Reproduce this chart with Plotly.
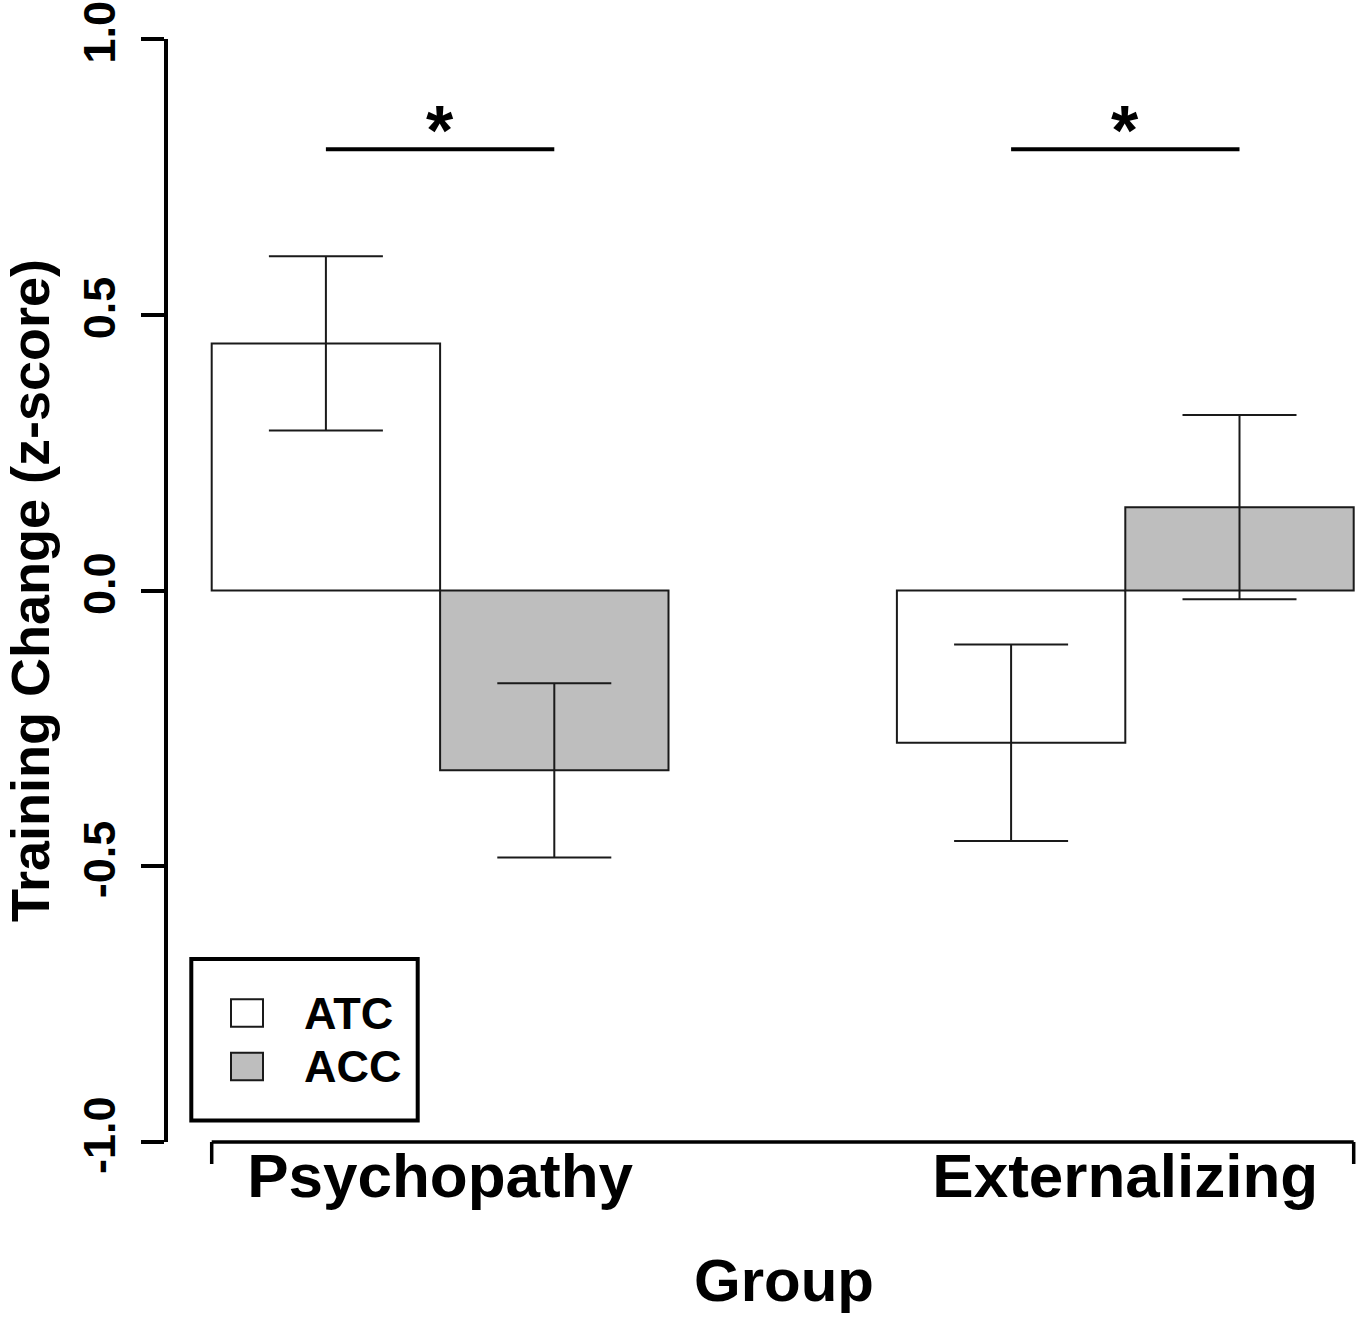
import plotly.graph_objects as go

# ---------------- data ----------------
groups = ["Psychopathy", "Externalizing"]
series_names = ["ATC", "ACC"]
series_colors = ["#ffffff", "#bebebe"]
atc_mean = [0.448, -0.276]
atc_se = [0.158, 0.178]
acc_mean = [-0.326, 0.151]
acc_se = [0.158, 0.167]
y_tick_vals = [-1.0, -0.5, 0.0, 0.5, 1.0]
y_tick_text = ["-1.0", "-0.5", "0.0", "0.5", "1.0"]
sig_level = 0.8
sig_label = "*"
x_title = "Group"
y_title = "Training Change (z-score)"

# ---------------- layout constants ----------------
W, H = 1361, 1317
ML, MR, MT, MB = 168, 0, 39, 175
PW, PH = W - ML - MR, H - MT - MB
PX_PER_UNIT = 228.4
BAR_LEFT_PX = 211.7
X0 = -(BAR_LEFT_PX - ML) / PX_PER_UNIT
XRANGE = [X0, X0 + PW / PX_PER_UNIT]
FONT = "Liberation Sans, Arial, Helvetica, sans-serif"
INK = "#000000"
EDGE = "#1a1a1a"


def px_x(px):
    return (px - ML) / PW


def px_y(py):
    return (H - MB - py) / PH


# bar positions (R barplot beside=TRUE, one bar width gap between groups)
atc_x = [3 * i + 0.5 for i in range(len(groups))]
acc_x = [3 * i + 1.5 for i in range(len(groups))]
centers = [3 * i + 1.0 for i in range(len(groups))]
bar_left = min(atc_x) - 0.5
bar_right = max(acc_x) + 0.5

fig = go.Figure()
for name, xs, ys, se, col in [
    (series_names[0], atc_x, atc_mean, atc_se, series_colors[0]),
    (series_names[1], acc_x, acc_mean, acc_se, series_colors[1]),
]:
    fig.add_trace(go.Bar(
        name=name, x=xs, y=ys, width=1.0,
        marker=dict(color=col, line=dict(color=EDGE, width=2)),
        error_y=dict(type="data", array=se, visible=True,
                     color=EDGE, thickness=2, width=57),
        showlegend=False,
    ))

shapes = []
# x-axis bracket
shapes.append(dict(type="line", xref="x", yref="paper", x0=bar_left, x1=bar_right,
                   y0=0, y1=0, line=dict(color=INK, width=3.5)))
for xv in (bar_left, bar_right):
    shapes.append(dict(type="line", xref="x", yref="paper", x0=xv, x1=xv,
                       y0=0, y1=-22 / PH, line=dict(color=INK, width=3.5)))
# significance lines
for i in range(len(groups)):
    shapes.append(dict(type="line", xref="x", yref="y", x0=atc_x[i], x1=acc_x[i],
                       y0=sig_level, y1=sig_level, line=dict(color=INK, width=4)))

annotations = []
for c in centers:
    annotations.append(dict(x=c, y=sig_level, xref="x", yref="y", text=sig_label,
                            showarrow=False, yanchor="middle", yshift=18,
                            font=dict(family=FONT, size=70, color=INK, weight="bold")))

# manual legend (R style box)
shapes.append(dict(type="rect", xref="paper", yref="paper",
                   x0=px_x(191.3), x1=px_x(417.7), y0=px_y(1120.5), y1=px_y(959),
                   line=dict(color=INK, width=4), fillcolor="rgba(0,0,0,0)"))
sw_top = [999.3, 1052.7]
for i, (name, col) in enumerate(zip(series_names, series_colors)):
    shapes.append(dict(type="rect", xref="paper", yref="paper",
                       x0=px_x(231), x1=px_x(263), y0=px_y(sw_top[i] + 27.5), y1=px_y(sw_top[i]),
                       line=dict(color=EDGE, width=2), fillcolor=col))
    annotations.append(dict(x=px_x(302), y=px_y(sw_top[i] + 14), xref="paper", yref="paper",
                            text=name, showarrow=False, xanchor="left", yanchor="middle",
                            font=dict(family=FONT, size=45, color=INK, weight="bold")))

# x axis title (centered on R's full plot region)
annotations.append(dict(x=px_x(784), y=px_y(1280), xref="paper", yref="paper",
                        text=x_title, showarrow=False, xanchor="center", yanchor="middle",
                        font=dict(family=FONT, size=60, color=INK, weight="bold")))

fig.update_layout(
    width=W, height=H,
    margin=dict(l=ML, r=MR, t=MT, b=MB, autoexpand=False),
    paper_bgcolor="white", plot_bgcolor="white",
    barmode="overlay",
    shapes=shapes,
    annotations=annotations,
    showlegend=False,
    xaxis=dict(range=XRANGE, tickvals=centers, ticktext=groups, ticks="",
               showline=False, showgrid=False, zeroline=False, ticklabelstandoff=-8,
               tickfont=dict(family=FONT, size=62, color=INK, weight="bold")),
    yaxis=dict(range=[-1, 1], tickvals=y_tick_vals, ticktext=y_tick_text,
               ticks="outside", ticklen=23, tickwidth=3.5, tickcolor=INK,
               showline=True, linewidth=3.5, linecolor=INK,
               showgrid=False, zeroline=False, tickangle=-90, ticklabelstandoff=8,
               tickfont=dict(family=FONT, size=45, color=INK, weight="bold"),
               title=dict(text=y_title, standoff=18,
                          font=dict(family=FONT, size=54, color=INK, weight="bold"))),
)

fig.write_html("out.html", config={"displayModeBar": False},
               post_script="document.body.style.margin='0px';")
